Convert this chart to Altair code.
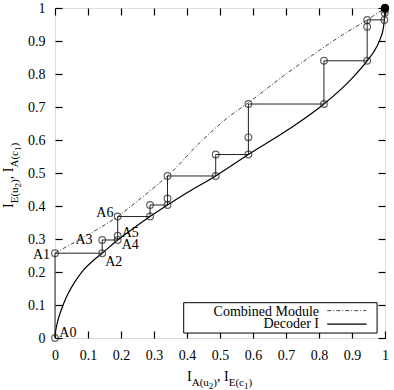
import altair as alt
import pandas as pd

FONT = "Liberation Serif"

# ---- data ----
dec_x = [0.0, 0.001, 0.004, 0.01, 0.02, 0.035, 0.06, 0.086, 0.115, 0.143, 0.19, 0.24, 0.288, 0.341,
         0.4, 0.487, 0.586, 0.7, 0.815, 0.9, 0.946, 0.965, 0.985, 0.995, 0.998, 1.0]
dec_y = [0.0, 0.015, 0.032, 0.058, 0.088, 0.125, 0.17, 0.206, 0.234, 0.257, 0.297, 0.334, 0.368, 0.403,
         0.44, 0.491, 0.556, 0.627, 0.709, 0.787, 0.840, 0.866, 0.905, 0.94, 0.964, 1.0]

cmb_x = [0.0, 0.05, 0.1, 0.143, 0.19, 0.25, 0.3, 0.341, 0.44, 0.52, 0.586, 0.7, 0.793, 0.87, 0.946, 1.0]
cmb_y = [0.257, 0.285, 0.313, 0.338, 0.368, 0.415, 0.456, 0.491, 0.593, 0.665, 0.713, 0.80, 0.866, 0.918, 0.964, 1.0]

st_x = [0.0, 0.0, 0.143, 0.143, 0.19, 0.19, 0.19, 0.288, 0.288, 0.341, 0.341, 0.341, 0.487, 0.487,
        0.586, 0.586, 0.586, 0.815, 0.815, 0.946, 0.946, 0.946, 0.998, 0.999, 1.0, 1.0]
st_y = [0.0, 0.257, 0.257, 0.297, 0.297, 0.31, 0.368, 0.368, 0.403, 0.403, 0.423, 0.491, 0.491, 0.556,
        0.556, 0.608, 0.709, 0.709, 0.840, 0.840, 0.943, 0.964, 0.964, 0.985, 0.995, 1.0]

conv_x = [1.0]
conv_y = [1.0]

lab_text = ["A0", "A1", "A2", "A3", "A4", "A5", "A6"]
lab_x = [0.013, -0.015, 0.152, 0.114, 0.202, 0.202, 0.177]
lab_y = [0.014, 0.253, 0.230, 0.297, 0.282, 0.318, 0.379]
lab_side = ["left", "right", "left", "right", "left", "left", "right"]

tick_values = [0, 0.1, 0.2, 0.3, 0.4, 0.5, 0.6, 0.7, 0.8, 0.9, 1]

legend_names = ["Combined Module", "Decoder I"]
legend_text_x = [0.80, 0.80]
legend_text_y = [0.080, 0.042]
legend_box = dict(x=[0.39], x2=[0.976], y=[0.015], y2=[0.107])
legend_line_x = [0.825]
legend_line_x2 = [0.944]
legend_line_y = [0.083, 0.042]

W = H = 330
xs = alt.Scale(domain=[0, 1], nice=False, zero=False)
ys = alt.Scale(domain=[0, 1], nice=False, zero=False)

TICK = {"expr": "-7"}

main_xaxis = alt.Axis(values=tick_values, format="~g", grid=False, domain=False, title=None,
                      tickSize=TICK, tickColor="black", tickWidth=1.2, labelFlush=False,
                      labelFont=FONT, labelFontSize=14, labelColor="black", labelPadding=17,
                      labelOverlap=False)
main_yaxis = alt.Axis(values=tick_values, format="~g", grid=False, domain=False, title=None,
                      tickSize=TICK, tickColor="black", tickWidth=1.2, labelFlush=False,
                      labelFont=FONT, labelFontSize=14, labelColor="black", labelPadding=17,
                      labelOverlap=False)
top_axis = alt.Axis(orient="top", values=tick_values, grid=False, domain=False, title=None,
                    tickSize=TICK, tickColor="black", tickWidth=1.2, labels=False)
right_axis = alt.Axis(orient="right", values=tick_values, grid=False, domain=False, title=None,
                      tickSize=TICK, tickColor="black", tickWidth=1.2, labels=False)


def X(f="x", axis=None):
    return alt.X(f"{f}:Q", scale=xs, axis=axis)


def Y(f="y", axis=None):
    return alt.Y(f"{f}:Q", scale=ys, axis=axis)


dec_df = pd.DataFrame({"x": dec_x, "y": dec_y, "i": range(len(dec_x))})
cmb_df = pd.DataFrame({"x": cmb_x, "y": cmb_y, "i": range(len(cmb_x))})
st_df = pd.DataFrame({"x": st_x, "y": st_y, "i": range(len(st_x))})
conv_df = pd.DataFrame({"x": conv_x, "y": conv_y})
lab_df = pd.DataFrame({"t": lab_text, "x": lab_x, "y": lab_y, "side": lab_side})

decoder = alt.Chart(dec_df).mark_line(color="black", strokeWidth=1.2, interpolate="monotone").encode(
    x=X(axis=main_xaxis), y=Y(axis=main_yaxis), order="i:Q")

combined = alt.Chart(cmb_df).mark_line(color="#444", strokeWidth=1, strokeDash=[4, 2, 1, 2],
                                       interpolate="monotone").encode(x=X(), y=Y(), order="i:Q")

stair = alt.Chart(st_df).mark_line(color="#222", strokeWidth=1).encode(x=X(), y=Y(), order="i:Q")
pts = alt.Chart(st_df).mark_point(shape="circle", filled=False, color="#222", size=45,
                                  strokeWidth=1.2).encode(x=X(), y=Y())
conv = alt.Chart(conv_df).mark_point(shape="circle", filled=True, color="black", size=70,
                                     opacity=1).encode(x=X(), y=Y())

lab_left = alt.Chart(lab_df).transform_filter(alt.datum.side == "left").mark_text(
    align="left", baseline="middle", font=FONT, fontSize=14, color="black").encode(
    x=X(), y=Y(), text="t:N")
lab_right = alt.Chart(lab_df).transform_filter(alt.datum.side == "right").mark_text(
    align="right", baseline="middle", font=FONT, fontSize=14, color="black").encode(
    x=X(), y=Y(), text="t:N")

box = alt.Chart(pd.DataFrame(legend_box)).mark_rect(fill="white", stroke="black", strokeWidth=1).encode(
    x=X(), x2="x2:Q", y=Y(), y2="y2:Q")
leg_txt = alt.Chart(pd.DataFrame({"t": legend_names, "x": legend_text_x, "y": legend_text_y})).mark_text(
    align="right", baseline="middle", font=FONT, fontSize=14, color="black").encode(x=X(), y=Y(), text="t:N")
leg_l1 = alt.Chart(pd.DataFrame({"x": legend_line_x, "x2": legend_line_x2, "y": legend_line_y[:1]})).mark_rule(
    color="#444", strokeWidth=1, strokeDash=[4, 2, 1, 2]).encode(x=X(), x2="x2:Q", y=Y())
leg_l2 = alt.Chart(pd.DataFrame({"x": legend_line_x, "x2": legend_line_x2, "y": legend_line_y[1:]})).mark_rule(
    color="black", strokeWidth=1.2).encode(x=X(), x2="x2:Q", y=Y())

mirror = alt.Chart(dec_df).mark_point(opacity=0).encode(x=X(axis=top_axis), y=Y(axis=right_axis))

# axis titles with sub/sub-subscripts
dummy = pd.DataFrame({"a": [0]})
x_pieces = [("I", 14, 0.0, 0), ("A(u", 11, 4.7, 5), ("2", 9, 21.8, 8), (")", 11, 26.3, 5),
            (",", 14, 30.0, 0), ("I", 14, 37.0, 0), ("E(c", 11, 41.7, 5), ("1", 9, 57.0, 8),
            (")", 11, 61.5, 5)]
y_pieces = [("I", 14, 0.0, 0), ("E(u", 11, 4.7, 5), ("2", 9, 20.6, 8), (")", 11, 25.1, 5),
            (",", 14, 28.8, 0), ("I", 14, 35.8, 0), ("A(c", 11, 40.5, 5), ("1", 9, 57.0, 8),
            (")", 11, 61.5, 5)]
title_layers = []
X0, XB = 132, 373
for t, s, off, sh in x_pieces:
    title_layers.append(alt.Chart(dummy).mark_text(align="left", baseline="alphabetic", font=FONT,
                                                   fontSize=s, color="black").encode(
        x=alt.value(X0 + off), y=alt.value(XB + sh), text=alt.value(t)))
Y0, YB = 200, -42
for t, s, off, sh in y_pieces:
    title_layers.append(alt.Chart(dummy).mark_text(align="left", baseline="alphabetic", font=FONT,
                                                   fontSize=s, color="black", angle=270).encode(
        x=alt.value(YB + sh), y=alt.value(Y0 - off), text=alt.value(t)))

chart = alt.layer(decoder, combined, stair, pts, conv, lab_left, lab_right, box, leg_txt, leg_l1, leg_l2,
                  mirror, *title_layers).resolve_axis(x="independent", y="independent").properties(
    width=W, height=H, autosize=alt.AutoSizeParams(type="none"),
    padding={"left": 55, "top": 8, "right": 9, "bottom": 52}).configure_view(
    stroke="black", strokeWidth=1.8).configure(background="white")

chart.save("out.html", embed_options={"renderer": "svg", "actions": False})
